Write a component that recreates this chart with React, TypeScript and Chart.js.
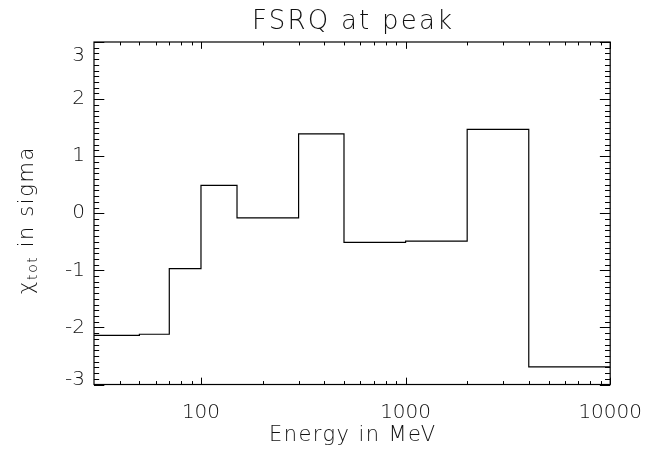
import React, { useEffect, useRef } from 'react';
import { Chart, registerables } from 'chart.js';

Chart.register(...registerables);

// ---- data ----
const binEdges = [30, 50, 70, 100, 150, 300, 500, 1000, 2000, 4000, 10000];
const chiValues = [-2.14, -2.12, -0.97, 0.49, -0.08, 1.39, -0.51, -0.49, 1.47, -2.69];
const xLabeledTicks = [100, 1000, 10000];
const xMinorTicks = [40, 50, 60, 70, 80, 90, 200, 300, 400, 500, 600, 700, 800, 900, 2000, 3000, 4000, 5000, 6000, 7000, 8000, 9000];
const yMajorTicks = [-3, -2, -1, 0, 1, 2, 3];
const titleText = 'FSRQ at peak';
const xTitleText = 'Energy in MeV';
const yTitleMain = 'χ';
const yTitleSub = 'tot';
const yTitleRest = ' in sigma';

const FONT_FAMILY = "'DejaVu Sans', sans-serif";
const FONT_WEIGHT = '200';
const TEXT_COLOR = '#111';
const TICK_FONT_SIZE = 20;

function drawSpaced(ctx: any, text: string, font: string, cx: number, y: number, targetWidth: number) {
  ctx.font = font;
  ctx.letterSpacing = '0px';
  const w = ctx.measureText(text).width;
  const gaps = Math.max(1, text.length - 1);
  const ls = Math.max(0, (targetWidth - w) / gaps);
  ctx.letterSpacing = `${ls}px`;
  ctx.textAlign = 'left';
  ctx.fillText(text, cx - (w + ls * gaps) / 2, y);
  ctx.letterSpacing = '0px';
}

const framePlugin = {
  id: 'idlFrame',
  afterDraw(chart: any) {
    const { ctx, chartArea } = chart;
    const { left, right, top, bottom } = chartArea;
    const xs = chart.scales.x;
    const ys = chart.scales.y;
    const h = bottom - top;
    const w = right - left;
    ctx.save();
    ctx.strokeStyle = '#000';
    ctx.lineWidth = 1.2;
    ctx.strokeRect(left, top, w, h);

    ctx.lineWidth = 1;
    ctx.beginPath();
    const xMajLen = 0.02 * h;
    const xMinLen = 0.01 * h;
    const yMajLen = 0.02 * w;
    const yMinLen = 0.01 * w;
    xLabeledTicks.forEach((v) => {
      const px = Math.round(xs.getPixelForValue(v)) + 0.5;
      ctx.moveTo(px, bottom); ctx.lineTo(px, bottom - xMajLen);
      ctx.moveTo(px, top); ctx.lineTo(px, top + xMajLen);
    });
    xMinorTicks.forEach((v) => {
      const px = Math.round(xs.getPixelForValue(v)) + 0.5;
      ctx.moveTo(px, bottom); ctx.lineTo(px, bottom - xMinLen);
      ctx.moveTo(px, top); ctx.lineTo(px, top + xMinLen);
    });
    yMajorTicks.forEach((v) => {
      const py = Math.round(ys.getPixelForValue(v)) + 0.5;
      ctx.moveTo(left, py); ctx.lineTo(left + yMajLen, py);
      ctx.moveTo(right, py); ctx.lineTo(right - yMajLen, py);
    });
    for (let k = -30; k <= 30; k++) {
      if (k % 10 === 0) continue;
      const py = Math.round(ys.getPixelForValue(k / 10)) + 0.5;
      ctx.moveTo(left, py); ctx.lineTo(left + yMinLen, py);
      ctx.moveTo(right, py); ctx.lineTo(right - yMinLen, py);
    }
    ctx.stroke();

    ctx.fillStyle = TEXT_COLOR;
    ctx.font = `${FONT_WEIGHT} ${TICK_FONT_SIZE}px ${FONT_FAMILY}`;
    ctx.textAlign = 'right';
    ctx.textBaseline = 'top';
    ctx.fillText('3', left - 9, top + 4);
    ctx.textBaseline = 'alphabetic';
    ctx.fillText('-3', left - 9, bottom);

    // chart title
    const cx = (left + right) / 2;
    ctx.textBaseline = 'alphabetic';
    drawSpaced(ctx, titleText, `${FONT_WEIGHT} 26px ${FONT_FAMILY}`, cx, 28.5, 200);

    // x title
    drawSpaced(ctx, xTitleText, `${FONT_WEIGHT} 21px ${FONT_FAMILY}`, cx, 441, 166);

    // y title with subscript
    const mainFont = `${FONT_WEIGHT} 21px ${FONT_FAMILY}`;
    const subFont = `${FONT_WEIGHT} 14px ${FONT_FAMILY}`;
    const ls = 1.6;
    ctx.letterSpacing = `${ls}px`;
    ctx.font = mainFont;
    const wMain = ctx.measureText(yTitleMain).width;
    const wRest = ctx.measureText(yTitleRest).width;
    ctx.font = subFont;
    const wSub = ctx.measureText(yTitleSub).width;
    const total = wMain + wSub + wRest;
    ctx.translate(33, 220);
    ctx.rotate(-Math.PI / 2);
    ctx.textAlign = 'left';
    let x0 = -total / 2;
    ctx.font = mainFont;
    ctx.fillText(yTitleMain, x0, 0);
    x0 += wMain;
    ctx.font = subFont;
    ctx.fillText(yTitleSub, x0, 4);
    x0 += wSub;
    ctx.font = mainFont;
    ctx.fillText(yTitleRest, x0, 0);
    ctx.letterSpacing = '0px';
    ctx.restore();
  },
};

export default function App() {
  const canvasRef = useRef<HTMLCanvasElement | null>(null);

  useEffect(() => {
    document.body.style.margin = '0';
    const canvas = canvasRef.current;
    if (!canvas) return;
    const points = binEdges.map((e, i) => ({
      x: e,
      y: i < chiValues.length ? chiValues[i] : chiValues[chiValues.length - 1],
    }));
    const chart = new Chart(canvas, {
      type: 'line',
      data: {
        datasets: [
          {
            data: points,
            stepped: 'before',
            borderColor: '#000',
            borderWidth: 1.2,
            pointRadius: 0,
            fill: false,
          },
        ],
      },
      options: {
        animation: false,
        responsive: true,
        maintainAspectRatio: false,
        events: [],
        layout: { padding: { left: 0, right: 46, top: 42, bottom: 0 } },
        plugins: {
          legend: { display: false },
          tooltip: { enabled: false },
          title: { display: false },
        },
        scales: {
          x: {
            type: 'logarithmic',
            min: 30,
            max: 10000,
            grid: { display: false, drawTicks: false },
            border: { display: false },
            afterFit: (scale: any) => {
              scale.height = 68.5;
            },
            ticks: {
              autoSkip: false,
              maxRotation: 0,
              minRotation: 0,
              padding: 16,
              color: TEXT_COLOR,
              font: { family: FONT_FAMILY, size: TICK_FONT_SIZE, weight: FONT_WEIGHT as any },
              callback: (v: any) => {
                const n = Number(v);
                return xLabeledTicks.some((t) => Math.abs(n - t) / t < 1e-6) ? String(Math.round(n)) : '';
              },
            },
            title: { display: false },
          },
          y: {
            type: 'linear',
            min: -3,
            max: 3,
            grid: { display: false, drawTicks: false },
            border: { display: false },
            afterFit: (scale: any) => {
              scale.width = 94;
            },
            ticks: {
              stepSize: 1,
              padding: 9,
              color: TEXT_COLOR,
              font: { family: FONT_FAMILY, size: TICK_FONT_SIZE, weight: FONT_WEIGHT as any },
              callback: (v: any) => {
                const n = Number(v);
                return Math.abs(n) === 3 ? '' : String(n);
              },
            },
          },
        },
      },
      plugins: [framePlugin],
    });
    return () => chart.destroy();
  }, []);

  return (
    <div style={{ width: 658, height: 453, position: 'relative' }}>
      <canvas ref={canvasRef} />
    </div>
  );
}
